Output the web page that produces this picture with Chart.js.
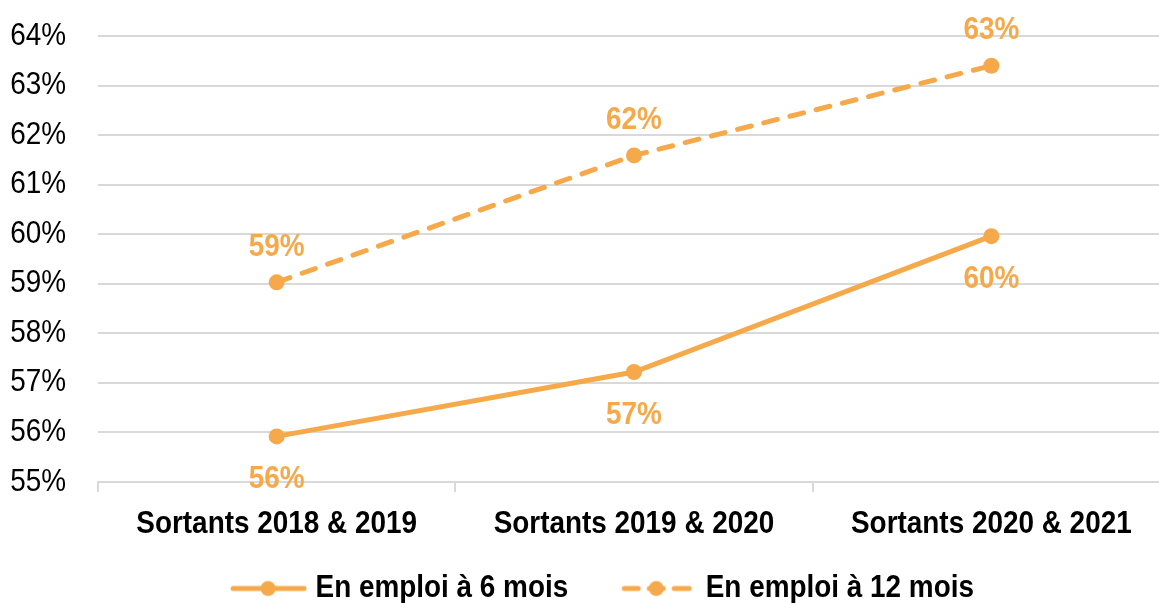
<!DOCTYPE html>
<html>
<head>
<meta charset="utf-8">
<script src="https://cdn.jsdelivr.net/npm/chart.js@4/dist/chart.umd.min.js"></script>
<style>
html,body{margin:0;padding:0;background:#fff;overflow:hidden;width:1159px;height:603px;}
#wrap{width:1204px;height:603px;}
</style>
</head>
<body>
<div id="wrap"><canvas id="c" width="1204" height="603"></canvas></div>
<script>
const categories = ["Sortants 2018 & 2019", "Sortants 2019 & 2020", "Sortants 2020 & 2021"];
const seriesNames = ["En emploi à 6 mois", "En emploi à 12 mois"];
const emploi6mois = [55.92, 57.22, 59.96];
const emploi12mois = [59.03, 61.59, 63.40];
const yTicks = [55, 56, 57, 58, 59, 60, 61, 62, 63, 64];

const ORANGE = '#F6A94A';
const FONT = "'Liberation Sans', Arial, sans-serif";
const SX = 0.9; // narrow (Arial Narrow–like) horizontal text scaling

const canvas = document.getElementById('c');
const ctx = canvas.getContext('2d');
// Condensed text rendering: scale glyphs horizontally around the anchor point
const origFillText = ctx.fillText.bind(ctx);
const origMeasure = ctx.measureText.bind(ctx);
ctx.fillText = function (text, x, y, maxWidth) {
  ctx.save();
  ctx.translate(x, y);
  ctx.scale(SX, 1);
  origFillText(text, 0, 0);
  ctx.restore();
};
ctx.measureText = function (text) {
  const m = origMeasure(text);
  return {
    width: m.width * SX,
    actualBoundingBoxAscent: m.actualBoundingBoxAscent,
    actualBoundingBoxDescent: m.actualBoundingBoxDescent,
    actualBoundingBoxLeft: m.actualBoundingBoxLeft * SX,
    actualBoundingBoxRight: m.actualBoundingBoxRight * SX,
    fontBoundingBoxAscent: m.fontBoundingBoxAscent,
    fontBoundingBoxDescent: m.fontBoundingBoxDescent
  };
};

function legendImage(dashed) {
  const L = 42, W = 76 + L, H = 20;
  const cv = document.createElement('canvas');
  cv.width = W; cv.height = H;
  const g = cv.getContext('2d');
  g.strokeStyle = ORANGE; g.fillStyle = ORANGE; g.lineWidth = 5; g.lineCap = 'round';
  const y = H / 2;
  if (dashed) {
    g.beginPath(); g.moveTo(L + 3, y); g.lineTo(L + 17, y); g.stroke();
    g.beginPath(); g.moveTo(L + 53, y); g.lineTo(L + 68, y); g.stroke();
    g.beginPath(); g.moveTo(L + 28, y); g.lineTo(L + 42, y); g.stroke();
    g.beginPath(); g.arc(L + 35, y, 7.5, 0, Math.PI * 2); g.fill();
  } else {
    g.beginPath(); g.moveTo(L + 2, y); g.lineTo(L + 73, y); g.stroke();
    g.beginPath(); g.arc(L + 37, y, 7.5, 0, Math.PI * 2); g.fill();
  }
  return cv;
}
const legendImgs = [legendImage(false), legendImage(true)];

const labelOffsets = [43, -35];
const dataLabels = {
  id: 'dataLabels',
  afterDatasetsDraw(chart) {
    const c = chart.ctx;
    c.save();
    c.font = "bold 31px " + FONT;
    c.fillStyle = ORANGE;
    c.textAlign = 'center';
    c.textBaseline = 'middle';
    chart.data.datasets.forEach((ds, i) => {
      const meta = chart.getDatasetMeta(i);
      meta.data.forEach((pt, j) => {
        c.fillText(Math.round(ds.data[j]) + '%', pt.x, pt.y + labelOffsets[i]);
      });
    });
    c.restore();
  }
};

new Chart(ctx, {
  type: 'line',
  data: {
    labels: categories,
    datasets: [
      {
        label: seriesNames[0], data: emploi6mois,
        borderColor: ORANGE, backgroundColor: ORANGE, borderWidth: 5,
        pointRadius: 8, pointBackgroundColor: ORANGE, pointBorderWidth: 0,
        pointStyle: 'circle', tension: 0
      },
      {
        label: seriesNames[1], data: emploi12mois,
        borderColor: ORANGE, backgroundColor: ORANGE, borderWidth: 5,
        borderDash: [14, 13], borderCapStyle: 'round',
        pointRadius: 8, pointBackgroundColor: ORANGE, pointBorderWidth: 0,
        pointStyle: 'circle', tension: 0
      }
    ]
  },
  options: {
    responsive: false,
    animation: false,
    devicePixelRatio: 1,
    layout: { padding: { left: 0, right: 34, top: 36, bottom: -11 } },
    plugins: {
      tooltip: { enabled: false },
      legend: {
        position: 'bottom',
        labels: {
          usePointStyle: true,
          pointStyleWidth: 104,
          padding: 18,
          color: '#000',
          font: { family: FONT, size: 31, weight: 'bold' },
          generateLabels(chart) {
            return chart.data.datasets.map((ds, i) => ({
              text: ds.label,
              pointStyle: legendImgs[i],
              fillStyle: ORANGE, strokeStyle: ORANGE, lineWidth: 0,
              hidden: false, datasetIndex: i, fontColor: '#000'
            }));
          }
        }
      }
    },
    scales: {
      x: {
        type: 'category',
        offset: true,
        grid: { offset: true, drawOnChartArea: false, drawTicks: true, tickLength: 10, color: '#d9d9d9', lineWidth: 2 },
        border: { display: true, color: '#d9d9d9', width: 2 },
        ticks: { color: '#000', font: { family: FONT, size: 31, weight: 'bold' }, padding: 14, maxRotation: 0, minRotation: 0, autoSkip: false },
        afterFit(scale) { scale.height = 73; }
      },
      y: {
        min: 55, max: 64,
        afterBuildTicks(scale) { scale.ticks = yTicks.map(v => ({ value: v })); },
        grid: { color: '#d9d9d9', lineWidth: 2, drawTicks: true, tickLength: 32, tickColor: 'rgba(0,0,0,0)' },
        border: { display: false },
        ticks: { color: '#000', font: { family: FONT, size: 31 }, padding: 0, callback: v => v + '%' },
        afterFit(scale) { scale.width = 98; }
      }
    }
  },
  plugins: [dataLabels]
});
</script>
</body>
</html>
